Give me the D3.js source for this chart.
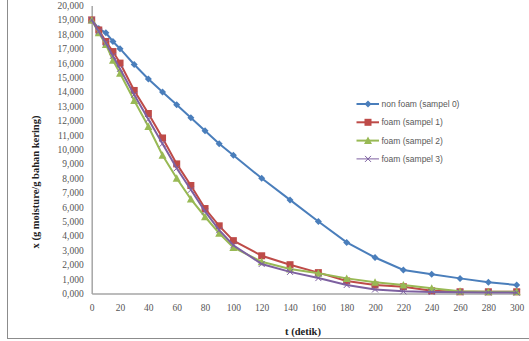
<!DOCTYPE html>
<html>
<head>
<meta charset="utf-8">
<script src="https://cdn.jsdelivr.net/npm/d3@7"></script>
<style>
body{margin:0;background:#fff}
svg{display:block}
</style>
</head>
<body>
<svg id="chart" width="529" height="341"></svg>
<script>
var times = [0,5,10,15,20,30,40,50,60,70,80,90,100,120,140,160,180,200,220,240,260,280,300];
var sampel0 = [19.0,18.4,18.1,17.5,17.0,15.9,14.9,14.0,13.1,12.2,11.3,10.4,9.6,8.0,6.5,5.0,3.55,2.5,1.63,1.33,1.05,0.78,0.59];
var sampel1 = [19.0,18.3,17.5,16.8,16.0,14.1,12.5,10.8,9.0,7.5,5.9,4.7,3.67,2.62,2.0,1.45,0.87,0.59,0.47,0.19,0.12,0.12,0.12];
var sampel2 = [19.0,18.1,17.3,16.2,15.3,13.4,11.6,9.6,8.0,6.56,5.33,4.18,3.2,2.2,1.7,1.40,1.05,0.78,0.59,0.36,0.15,0.12,0.12];
var sampel3 = [19.0,18.2,17.4,16.5,15.6,13.8,12.1,10.4,8.7,7.2,5.7,4.4,3.35,2.05,1.5,1.07,0.59,0.28,0.15,0.1,0.08,0.07,0.06];
var seriesNames = ["non foam (sampel 0)","foam (sampel 1)","foam (sampel 2)","foam (sampel 3)"];
var xTicks = d3.range(0, 301, 20);
var yTicks = d3.range(0, 21, 1);

var colors = ["#4a7ebb","#be4b48","#98b954","#7d60a0"];
var markers = ["diamond","square","triangle","cross"];
var allSeries = [sampel0,sampel1,sampel2,sampel3];

var svg = d3.select("#chart");
svg.append("rect").attr("width",529).attr("height",341).attr("fill","#fff");
// outer chart border (cut off at top/right)
svg.append("rect").attr("x",7.5).attr("y",-10).attr("width",600).attr("height",348.5)
	.attr("fill","none").attr("stroke","#8c8c8c").attr("stroke-width",1);

var x = d3.scaleLinear().domain([0,300]).range([91.7,516.7]);
var y = d3.scaleLinear().domain([0,20]).range([293.5,5.5]);

var fmt = function(v){ return d3.format(".3f")(v).replace(".", ","); };

var xAxis = svg.append("g").attr("transform","translate(0,"+y(0)+")")
	.call(d3.axisBottom(x).tickValues(xTicks).tickSize(0).tickPadding(11).tickFormat(d3.format("d")));
var yAxis = svg.append("g").attr("transform","translate("+x(0)+",0)")
	.call(d3.axisLeft(y).tickValues(yTicks).tickSize(0).tickPadding(8).tickFormat(fmt));
[xAxis,yAxis].forEach(function(a){
	a.select(".domain").attr("stroke","#a6a6a6").attr("stroke-width",1.5);
	a.selectAll("text").attr("font-family","Liberation Serif").attr("font-size","9.5px").attr("fill","#555");
});

var line = d3.line().x(function(d,i){ return x(times[i]); }).y(function(d){ return y(d); });

function marker(g, type, cx, cy, col){
	if(type=="diamond"){
		g.append("path").attr("d","M"+cx+","+(cy-3.5)+"L"+(cx+3.5)+","+cy+"L"+cx+","+(cy+3.5)+"L"+(cx-3.5)+","+cy+"Z").attr("fill",col);
	}else if(type=="square"){
		g.append("rect").attr("x",cx-3.5).attr("y",cy-3.5).attr("width",7).attr("height",7).attr("fill",col);
	}else if(type=="triangle"){
		g.append("path").attr("d","M"+cx+","+(cy-4)+"L"+(cx+4)+","+(cy+3.5)+"L"+(cx-4)+","+(cy+3.5)+"Z").attr("fill",col);
	}else{
		g.append("path").attr("d","M"+(cx-3)+","+(cy-3)+"L"+(cx+3)+","+(cy+3)+"M"+(cx+3)+","+(cy-3)+"L"+(cx-3)+","+(cy+3)).attr("stroke",col).attr("stroke-width",1);
	}
}

allSeries.forEach(function(s,k){
	var g = svg.append("g");
	g.append("path").datum(s).attr("d",line).attr("fill","none").attr("stroke",colors[k]).attr("stroke-width",2);
	s.forEach(function(v,i){ marker(g, markers[k], x(times[i]), y(v), colors[k]); });
});

// legend
var legend = svg.append("g");
seriesNames.forEach(function(n,k){
	var ly = 104 + k*18.3;
	legend.append("line").attr("x1",356.5).attr("x2",379).attr("y1",ly).attr("y2",ly)
		.attr("stroke",colors[k]).attr("stroke-width",k==3?1:2);
	marker(legend, markers[k], 368, ly, colors[k]);
	legend.append("text").attr("x",381.5).attr("y",ly+3).text(n)
		.attr("font-family","Liberation Sans").attr("font-size","8.5px").attr("fill","#595959");
});

// axis titles
svg.append("text").attr("x",303).attr("y",335).attr("text-anchor","middle")
	.attr("font-family","Liberation Serif").attr("font-weight","bold").attr("font-size","10.5px").attr("fill","#222")
	.text("t (detik)");
svg.append("text").attr("transform","translate(39,182) rotate(-90)").attr("text-anchor","middle")
	.attr("font-family","Liberation Serif").attr("font-weight","bold").attr("font-size","10.5px").attr("fill","#222")
	.text("x (g moisture/g bahan kering)");
</script>
</body>
</html>
